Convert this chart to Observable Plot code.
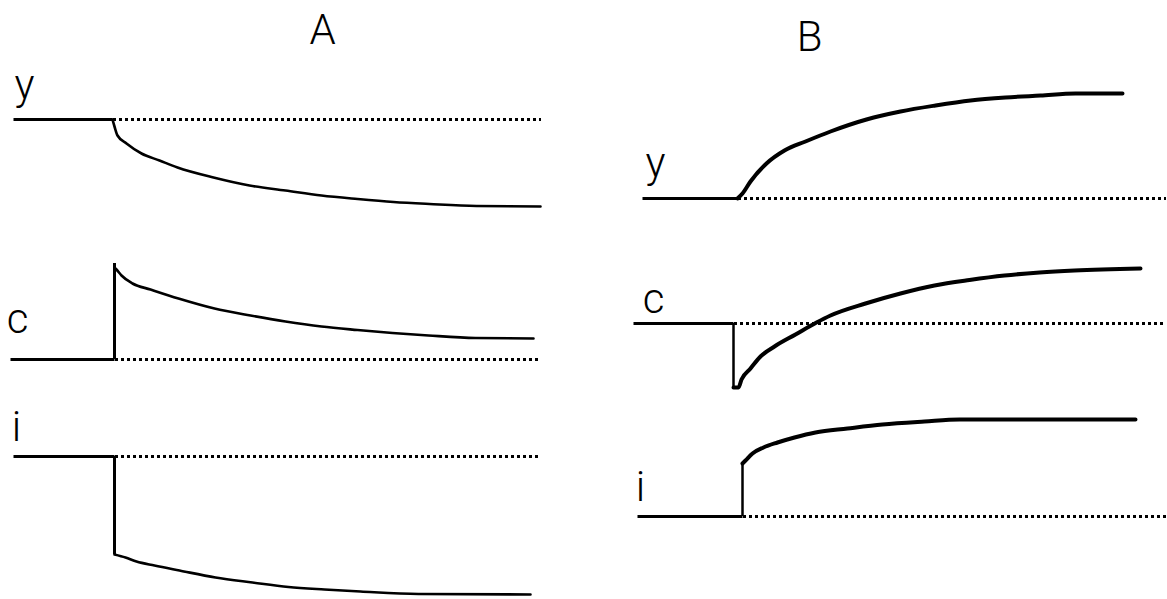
<!DOCTYPE html>
<html>
<head>
<meta charset="utf-8">
<script src="https://cdn.jsdelivr.net/npm/d3@7"></script>
<script src="https://cdn.jsdelivr.net/npm/@observablehq/plot@0.6"></script>
<style>
  html, body { margin: 0; padding: 0; background: #fff; }
  #chart { width: 1167px; height: 599px; }
</style>
</head>
<body>
<div id="chart"></div>
<script>
// ---------------- DATA (time since shock, deviation from initial level) ----------------
const panels = ["A", "B"];
const variables = ["y", "c", "i"];

// start of the pre-shock (flat) segment, per panel, per variable
const preStartA = [-0.99, -1.02, -0.99];
const preStartB = [-0.95, -1.04, -1.00];
// time at which the path leaves the initial level
const shockA = [0.00, 0.02, 0.02];
const shockB = [0.00, -0.04, 0.05];
// end of the dotted "initial level" reference
const refEnd = 4.28;

// instantaneous jumps (value reached at the shock); null = no jump
const jumpA = [null, 9.6, -9.8];
const jumpB = [null, -6.4, 5.3];

// Panel A responses
const A_y_t = [0, 0.02, 0.05, 0.14, 0.29, 0.47, 0.65, 1.01, 1.37, 1.73, 2.09, 2.45, 2.81, 3.17, 3.64, 4.28];
const A_y_v = [0, -0.7, -1.6, -2.4, -3.4, -4.1, -4.8, -5.8, -6.6, -7.1, -7.6, -7.95, -8.25, -8.45, -8.65, -8.7];
const A_c_t = [0.02, 0.04, 0.09, 0.20, 0.38, 0.66, 1.02, 1.38, 1.73, 2.09, 2.45, 2.80, 3.16, 3.63, 4.21];
const A_c_v = [9.2, 9.0, 8.4, 7.6, 7.0, 6.1, 5.1, 4.4, 3.8, 3.3, 2.95, 2.65, 2.4, 2.15, 2.1];
const A_i_t = [0.02, 0.13, 0.24, 0.42, 0.67, 1.03, 1.40, 1.76, 2.12, 2.48, 3.06, 4.18];
const A_i_v = [-9.8, -10.1, -10.5, -10.9, -11.4, -12.1, -12.6, -13.05, -13.3, -13.5, -13.75, -13.8];

// Panel B responses
const B_y_t = [0, 0.05, 0.13, 0.29, 0.47, 0.68, 0.93, 1.29, 1.63, 1.98, 2.33, 2.68, 3.03, 3.38, 3.85];
const B_y_v = [0, 0.5, 1.7, 3.5, 4.8, 5.7, 6.7, 7.9, 8.7, 9.3, 9.8, 10.1, 10.3, 10.5, 10.5];
const B_c_t = [-0.04, 0.01, 0.04, 0.13, 0.23, 0.37, 0.58, 0.79, 0.93, 1.28, 1.63, 1.97, 2.32, 2.67, 3.02, 3.37, 4.03];
const B_c_v = [-6.4, -6.4, -5.6, -4.5, -3.3, -2.3, -1.1, 0.1, 0.8, 2.0, 3.0, 3.8, 4.35, 4.8, 5.1, 5.3, 5.5];
const B_i_t = [0.05, 0.08, 0.15, 0.26, 0.40, 0.57, 0.78, 1.10, 1.45, 1.87, 2.22, 3.98];
const B_i_v = [5.3, 5.6, 6.3, 6.9, 7.4, 7.9, 8.4, 8.8, 9.2, 9.5, 9.7, 9.7];

// ---------------- LAYOUT (positions / sizes, kept apart from data) ----------------
const W = 1167, H = 599;
const panelOffset = { A: 0, B: 6.25 };              // horizontal shift of panel B (time units)
const rowLevel = {                                   // vertical placement of each row
  A: { y: 48.0, c: 24.0, i: 14.3 },
  B: { y: 40.1, c: 27.6, i: 8.3 }
};
const labelPos = {                                   // [t, level] of the row labels (baseline)
  A: { y: [-0.88, 50.1], c: [-0.95, 26.7], i: [-0.96, 15.9] },
  B: { y: [-0.82, 42.3], c: [-0.84, 28.7], i: [-0.97, 9.9] }
};
const titlePos = { A: [2.10, 55.6], B: [0.72, 54.9] };
const FONT = "Roboto, 'Liberation Sans', Arial, sans-serif";

// ---------------- BUILD TABLES ----------------
const resp = {
  A: { y: [A_y_t, A_y_v], c: [A_c_t, A_c_v], i: [A_i_t, A_i_v] },
  B: { y: [B_y_t, B_y_v], c: [B_c_t, B_c_v], i: [B_i_t, B_i_v] }
};
const preStart = { A: preStartA, B: preStartB };
const shock = { A: shockA, B: shockB };
const jump = { A: jumpA, B: jumpB };

const preRows = [], refRows = [], respRows = [], jumpRows = [], labelRows = [], titleRows = [];
for (const p of panels) {
  const off = panelOffset[p];
  variables.forEach((v, k) => {
    const base = rowLevel[p][v];
    const key = p + v;
    preRows.push({ key, x: preStart[p][k] + off, y: base }, { key, x: shock[p][k] + off, y: base });
    refRows.push({ key, x: shock[p][k] + off, y: base }, { key, x: refEnd + off, y: base });
    const [ts, vs] = resp[p][v];
    ts.forEach((t, j) => respRows.push({ key, panel: p, x: t + off, y: base + vs[j] }));
    if (jump[p][k] !== null) jumpRows.push({ panel: p, x: shock[p][k] + off, y1: base, y2: base + jump[p][k] });
    const lp = labelPos[p][v];
    labelRows.push({ text: v, x: lp[0] + off, y: lp[1] });
  });
  titleRows.push({ text: p, x: titlePos[p][0] + off, y: titlePos[p][1] });
}

const chart = Plot.plot({
  width: W,
  height: H,
  margin: 0,
  style: { background: "#fff" },
  x: { domain: [-1.12, -1.12 + W / 100], axis: null },
  y: { domain: [0, H / 10], axis: null },
  marks: [
    Plot.line(preRows, { x: "x", y: "y", z: "key", stroke: "#000", strokeWidth: 3, strokeLinecap: "butt" }),
    Plot.line(refRows, { x: "x", y: "y", z: "key", stroke: "#000", strokeWidth: 3, strokeDasharray: "3,3", strokeLinecap: "butt", shapeRendering: "crispEdges" }),
    Plot.ruleX(jumpRows.filter(d => d.panel === "A"), { x: "x", y1: "y1", y2: "y2", stroke: "#000", strokeWidth: 3 }),
    Plot.ruleX(jumpRows.filter(d => d.panel === "B"), { x: "x", y1: "y1", y2: "y2", stroke: "#000", strokeWidth: 2.5 }),
    Plot.line(respRows.filter(d => d.panel === "A"), { x: "x", y: "y", z: "key", stroke: "#000", strokeWidth: 2.6, curve: "monotone-x" }),
    Plot.line(respRows.filter(d => d.panel === "B"), { x: "x", y: "y", z: "key", stroke: "#000", strokeWidth: 4, curve: "monotone-x" }),
    Plot.text(labelRows, { x: "x", y: "y", text: "text", fontSize: 42, fontWeight: 300, fontFamily: FONT, fill: "#000", textAnchor: "middle", lineAnchor: "bottom" }),
    Plot.text(titleRows, { x: "x", y: "y", text: "text", fontSize: 42, fontWeight: 300, fontFamily: FONT, fill: "#000", textAnchor: "middle", lineAnchor: "bottom" })
  ]
});
document.getElementById("chart").appendChild(chart);
</script>
</body>
</html>
